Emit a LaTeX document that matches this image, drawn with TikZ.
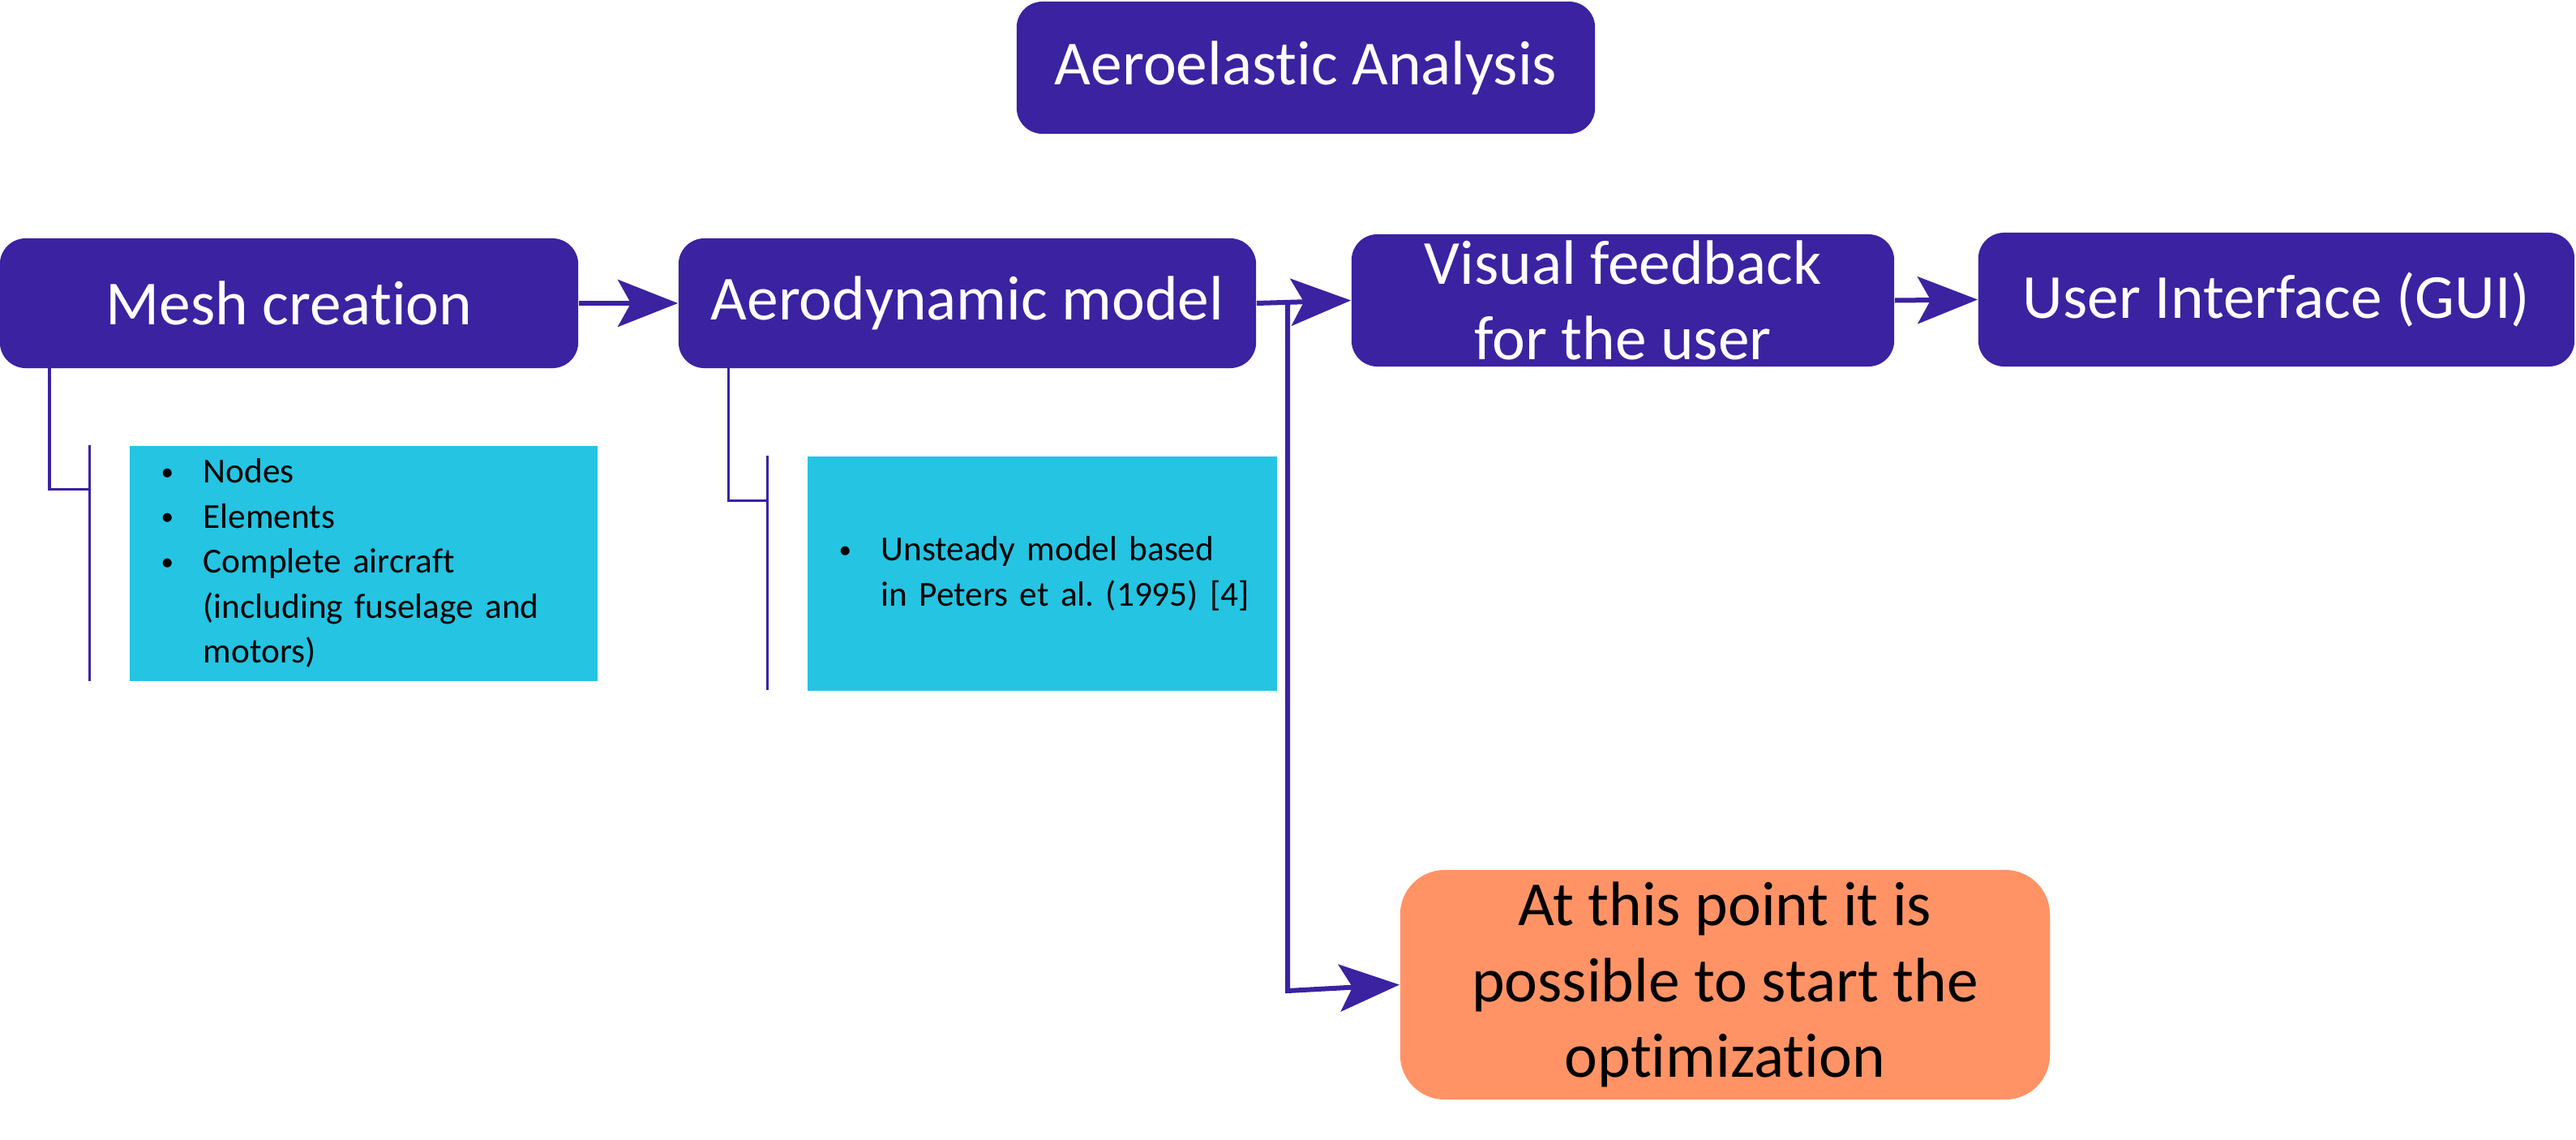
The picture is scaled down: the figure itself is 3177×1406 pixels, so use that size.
\documentclass[tikz,border=0pt]{standalone}
\usepackage{fontspec}
\setmainfont{Carlito}[Ligatures=NoCommon]
\usetikzlibrary{arrows.meta}
\definecolor{purp}{HTML}{3B22A0}
\definecolor{cyanbox}{HTML}{25C4E2}
\definecolor{orangebox}{HTML}{FF9366}
\newcommand\bul{\makebox[0.54cm][l]{\hspace*{0.02cm}\raisebox{0.08em}{\scalebox{0.72}{\textbullet}}}}
\newcommand\indnt{\hspace*{0.54cm}}
\frenchspacing
\begin{document}
\begin{tikzpicture}[x=0.01cm,y=-0.01cm,
  mainbox/.style={rectangle, rounded corners=0.32cm, fill=purp, text=white, inner sep=0pt,
    font=\fontsize{22}{26.5}\selectfont, align=center},
  optbox/.style={rectangle, rounded corners=0.55cm, fill=orangebox, text=black, inner sep=0pt,
    font=\fontsize{22}{26.5}\selectfont, align=center},
  infobox/.style={rectangle, fill=cyanbox, text=black, inner xsep=0.37cm, inner ysep=0pt,
    font=\fontsize{12.3}{15.8}\selectfont, align=left, anchor=north west},
  conn/.style={draw=purp, line width=0.06cm, -{Stealth[length=0.74cm,width=0.58cm,inset=0.16cm]}},
  brk/.style={draw=purp, line width=0.03cm}]
\useasboundingbox (0,0) rectangle (3177,1406);

\node[mainbox, minimum width=7.13cm, minimum height=1.63cm] (title) at (1610.5,83.5) {Aeroelastic Analysis};
\node[mainbox, minimum width=7.13cm, minimum height=1.60cm] (mesh) at (356.5,374) {Mesh creation};
\node[mainbox, minimum width=7.12cm, minimum height=1.60cm] (aero) at (1193,374) {Aerodynamic model};
\node[mainbox, minimum width=6.69cm, minimum height=1.63cm] (visual) at (2001.5,370.5) {Visual feedback\\for the user};
\node[mainbox, minimum width=7.35cm, minimum height=1.65cm] (ui) at (2807.5,369.5) {User Interface (GUI)};
\node[optbox, minimum width=8.01cm, minimum height=2.83cm] (opt) at (2127.5,1214.5) {At this point it is\\possible to start the\\optimization};

\node[infobox, text width=5.03cm, minimum height=2.90cm] (info1) at (159,549)
  {\bul Nodes\\\bul Elements\\\bul Complete aircraft\\\indnt(including fuselage and\\\indnt motors)};
\node[infobox, text width=5.05cm, minimum height=2.89cm] (info2) at (995,562)
  {\bul Unsteady model based\\\indnt\mbox{in Peters et al. (1995) [4]}};

% connectors
\draw[conn] (mesh.east) -- (aero.west);
\draw[conn] (aero.east) -- (visual.west);
\draw[conn] (visual.east) -- (ui.west);
\coordinate (j) at (1588,371);
\coordinate (k) at (1588,1222);
\draw[conn] (j) -- (k) -- (opt.west);

% brackets
\coordinate (m1) at (61,454);
\coordinate (m2) at (61,603);
\coordinate (m3) at (110,603);
\draw[brk] (m1) -- (m2) -- (m3);
\coordinate (m4) at (110,549);
\coordinate (m5) at (110,840);
\draw[brk] (m4) -- (m5);
\coordinate (a1) at (898,454);
\coordinate (a2) at (898,617);
\coordinate (a3) at (946,617);
\draw[brk] (a1) -- (a2) -- (a3);
\coordinate (a4) at (946,562);
\coordinate (a5) at (946,851);
\draw[brk] (a4) -- (a5);
\end{tikzpicture}
\end{document}
